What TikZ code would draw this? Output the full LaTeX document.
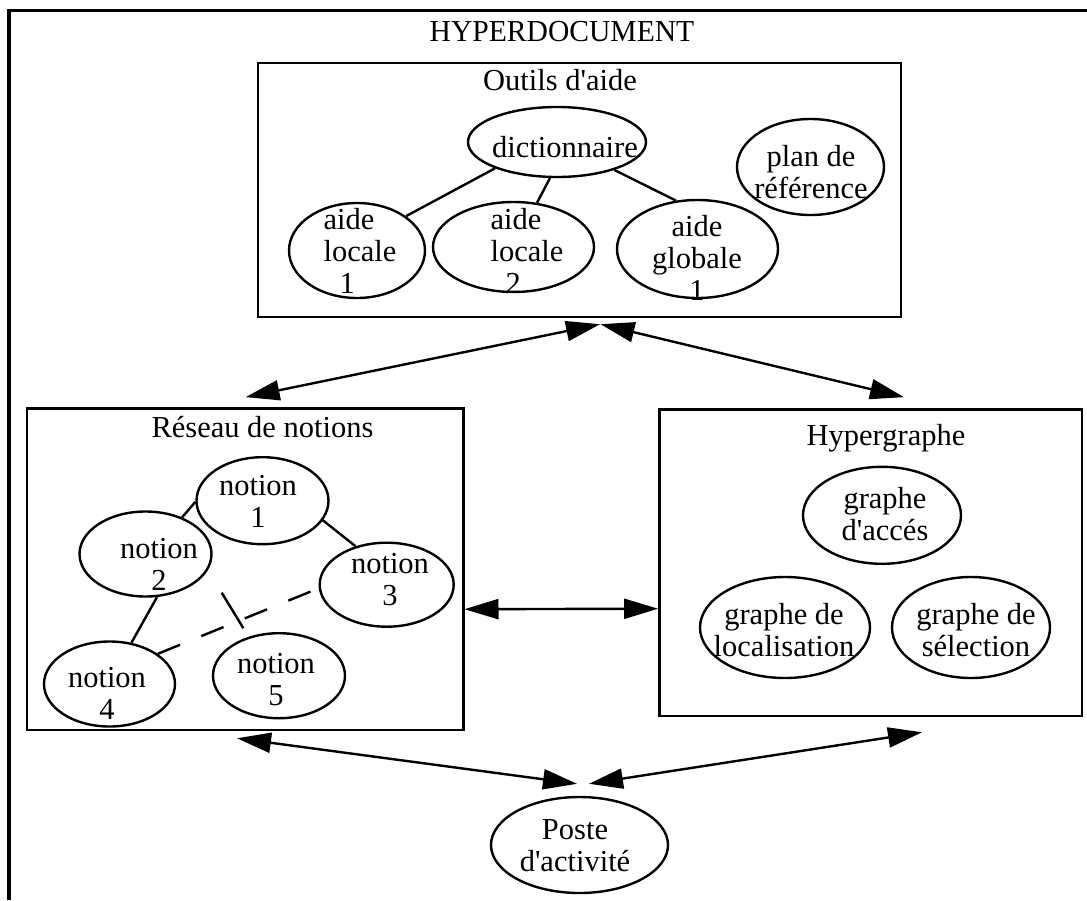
\documentclass[tikz,border=0pt]{standalone}
\usepackage{fontspec}
\setmainfont{Liberation Serif}
\usetikzlibrary{shapes.geometric,arrows.meta,calc}
\newcommand{\myq}{\textquotesingle}
\begin{document}
\begin{tikzpicture}[x=1pt,y=-1pt,
  box/.style={draw, line width=2.4pt, rectangle, inner sep=0pt},
  oval/.style={draw, ellipse, line width=2.4pt, inner sep=0pt},
  txt/.style={inner sep=0pt, align=center, font=\fontsize{30.5}{32}\selectfont},
  ttl/.style={inner sep=0pt, anchor=base, font=\fontsize{30.5}{32}\selectfont},
  link/.style={line width=2.4pt},
  dlink/.style={line width=2.4pt, dash pattern=on 24pt off 23pt},
  biarrow/.style={line width=2.4pt, {Triangle[length=34pt,width=20pt]}-{Triangle[length=34pt,width=20pt]}}
]
\useasboundingbox (0,0) rectangle (1087,900);
% outer frame (only top and left sides visible)
\draw[line width=3.5pt] (1087,10.5) -- (9,10.5) -- (9,900);
\node[ttl] (hdt) at (562,41) {\scalebox{0.97}[1]{HYPERDOCUMENT}};

% containers
\node[box, minimum width=643pt, minimum height=254pt] (outils) at (579.5,190) {};
\node[box, minimum width=436.6pt, minimum height=321.7pt] (reseau) at (245,569.2) {};
\node[box, minimum width=422.4pt, minimum height=306.7pt] (hyper) at (870.5,562.7) {};

\node[ttl] (outilst) at (560,90) {Outils d\myq aide};
\node[ttl] (reseaut) at (262.5,437) {Réseau de notions};
\node[ttl] (hypert) at (886,445) {Hypergraphe};

% Outils d'aide
\node[oval, minimum width=178pt, minimum height=70pt] (dict) at (557,142) {};
\node[oval, minimum width=147pt, minimum height=96pt] (plan) at (810.5,167) {};
\node[oval, minimum width=136pt, minimum height=95pt] (al1) at (357,250.5) {};
\node[oval, minimum width=161pt, minimum height=90pt] (al2) at (513.5,247) {};
\node[oval, minimum width=161pt, minimum height=98pt] (ag1) at (697.5,249) {};
\node[txt] (dictt) at (565,147) {dictionnaire};
\node[txt] (plant) at (811,172) {plan de\\référence};
\node[txt, align=left] (al1t) at (360,251) {aide\\locale\\\hspace*{16pt}1};
\node[txt, align=left] (al2t) at (527,251) {aide\\locale\\\hspace*{15pt}2};
\node[txt] (ag1t) at (697,258) {aide\\globale\\1};
\draw[link] (dict.203.7) -- (al1.35);
\draw[link] (dict.259) -- (al2.62);
\draw[link] (dict.-26) -- (ag1.114);

% Reseau de notions
\node[oval, minimum width=132pt, minimum height=87pt] (n1) at (262.5,500.7) {};
\node[oval, minimum width=132pt, minimum height=85pt] (n2) at (145.5,554) {};
\node[oval, minimum width=134pt, minimum height=84pt] (n3) at (386.7,584.7) {};
\node[oval, minimum width=131pt, minimum height=85pt] (n4) at (109.5,684) {};
\node[oval, minimum width=132pt, minimum height=85pt] (n5) at (279,675.7) {};
\node[txt] (n1t) at (258,501.5) {notion\\1};
\node[txt] (n2t) at (159,564.5) {notion\\2};
\node[txt] (n3t) at (390,579.5) {notion\\3};
\node[txt] (n4t) at (107,693) {notion\\4};
\node[txt] (n5t) at (276,680) {notion\\5};
\draw[link] (n1.181) -- (n2.45);
\draw[link] (n1.-18) -- (n3.129);
\draw[link] (n2.-75) -- (n4.62);
\coordinate (n25) at (221.7,592.7);
\draw[link] (n25) -- ($(n5.128)!10pt!(n25)$);
\draw[dlink] (n4.32.5) -- (n3.183);

% Hypergraphe
\node[oval, minimum width=158pt, minimum height=97pt] (gacc) at (882,515.3) {};
\node[oval, minimum width=170pt, minimum height=101pt] (gloc) at (785,627.5) {};
\node[oval, minimum width=158pt, minimum height=101pt] (gsel) at (971,627.5) {};
\node[txt] (gacct) at (885,514) {graphe\\d\myq accés};
\node[txt] (gloct) at (784,630) {graphe de\\localisation};
\node[txt] (gselt) at (976,630) {graphe de\\sélection};

% Poste d'activite
\node[oval, minimum width=177pt, minimum height=96pt] (poste) at (579.5,845) {};
\node[txt] (postet) at (575,846) {Poste\\d\myq activité};

% arrows
\draw[biarrow] ($(reseau.north)+(0.6,-10)$) -- ($(outils.south)+(20.5,6)$);
\draw[biarrow] ($(outils.south)+(21,6)$) -- ($(hyper.north)+(33.5,-11)$);
\draw[biarrow] ($(reseau.east)+(0,40)$) -- ($(hyper.west)+(0,46)$);
\draw[biarrow] ($(reseau.south)+(-8,7)$) -- ($(poste.north)+(-2.5,-12)$);
\draw[biarrow] ($(poste.north)+(9.5,-12)$) -- ($(hyper.south)+(51.5,15)$);
\end{tikzpicture}
\end{document}
